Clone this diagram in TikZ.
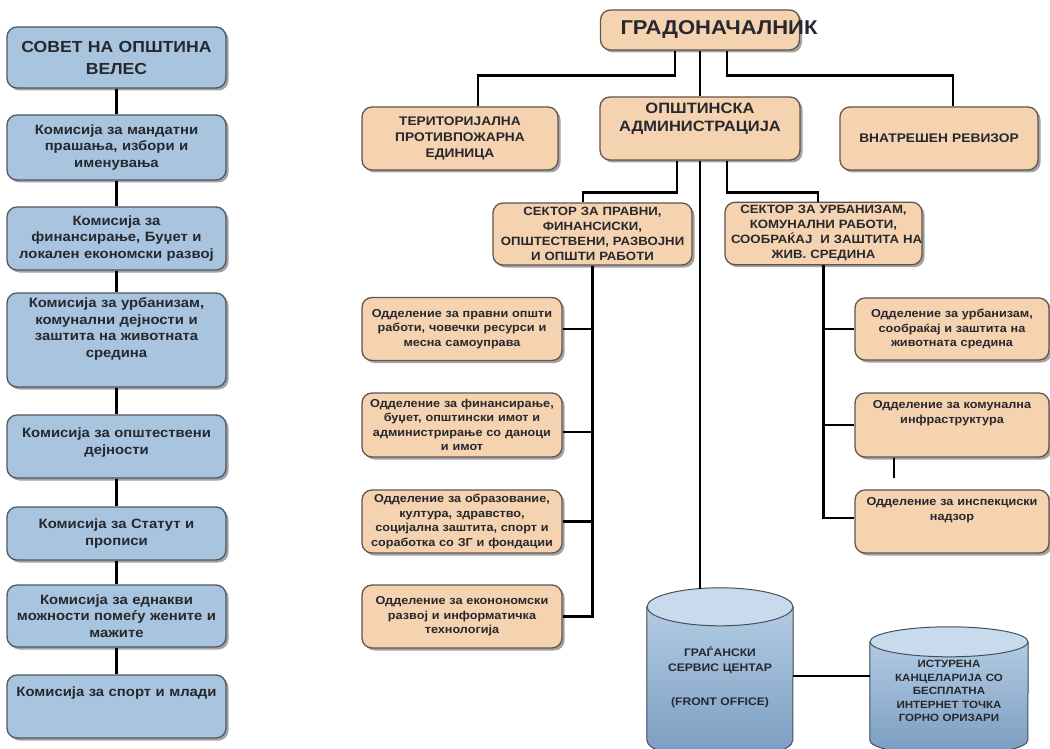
\documentclass[tikz,border=0pt]{standalone}
\usepackage{fontspec}
\setmainfont{Liberation Sans}[FakeStretch=1.1]
\usepackage{tikz}
\usetikzlibrary{shadows,backgrounds}

\definecolor{councilblue}{RGB}{168,196,222}
\definecolor{councilline}{RGB}{78,88,100}
\definecolor{officeorange}{RGB}{245,211,176}
\definecolor{officeline}{RGB}{96,86,76}
\definecolor{cyltop}{RGB}{200,219,236}
\definecolor{cylupper}{RGB}{178,203,227}
\definecolor{cyllower}{RGB}{122,156,192}
\definecolor{cylline}{RGB}{70,80,92}
\definecolor{inktext}{RGB}{38,40,46}

\begin{document}
\begin{tikzpicture}[x=1pt,y=-1pt,
  wire/.style={draw=black,line width=2.4pt},
  boxshadow/.style={drop shadow={shadow xshift=2.5pt,shadow yshift=-2.5pt,fill=black!60,opacity=0.6}},
  cbox/.style={boxshadow,draw=councilline,line width=1.3pt,fill=councilblue,rounded corners=10pt,text width=209pt,inner xsep=5pt,align=center,text=inktext,font=\bfseries\fontsize{13.5}{16.5}\selectfont},
  obox/.style={boxshadow,draw=officeline,line width=1.3pt,fill=officeorange,rounded corners=10pt,align=center,inner xsep=6pt,text=inktext},
  headbox/.style={obox,text width=186pt,minimum height=63pt,font=\bfseries\fontsize{12.5}{16}\selectfont},
  secbox/.style={obox,text width=187pt,minimum height=62pt,font=\bfseries\fontsize{12}{15}\selectfont},
  deptbox/.style={obox,text width=188pt,minimum height=63pt,font=\bfseries\fontsize{11.5}{14.5}\selectfont},
  cyltext/.style={inner sep=0pt,align=center,text=inktext,font=\bfseries\fontsize{10.5}{13.5}\selectfont},
  cylwall/.style={draw=cylline,line width=1pt}]

\useasboundingbox (0,0) rectangle (1050,749);

\node[cbox,minimum height=61pt,font=\bfseries\fontsize{16}{22}\selectfont] (council) at (116.5,57.5) {СОВЕТ НА ОПШТИНА\\ВЕЛЕС};
\node[cbox,minimum height=65pt] (mandate) [node distance=90pt,below of=council] {Комисија за мандатни\\прашања, избори и\\именувања};
\node[cbox,minimum height=63pt] (budget) [node distance=91pt,below of=mandate] {Комисија за\\финансирање, Буџет и\\локален економски развој};
\node[cbox,minimum height=94pt] (urban) [node distance=101.5pt,below of=budget] {Комисија за урбанизам,\\комунални дејности и\\заштита на животната\\средина\\[8pt]\mbox{}};
\node[cbox,minimum height=63pt] (social) [node distance=106.5pt,below of=urban] {Комисија за општествени\\дејности\\[-6pt]\mbox{}};
\node[cbox,minimum height=53pt] (statute) [node distance=87pt,below of=social] {Комисија за Статут и\\прописи};
\node[cbox,minimum height=62pt] (equal) [node distance=82.5pt,below of=statute] {Комисија за еднакви\\можности помеѓу жените и\\мажите};
\node[cbox,minimum height=63pt] (youth) [node distance=90.5pt,below of=equal] {Комисија за спорт и млади\\[14pt]\mbox{}};

\node[obox,text width=159pt,inner xsep=20pt,minimum height=40pt,font=\bfseries\fontsize{20}{24}\selectfont] (mayor) at (700,30) {ГРАДОНАЧАЛНИК};
\node[obox,text width=188pt,minimum height=63pt,font=\bfseries\fontsize{15}{18}\selectfont] (admin) at (700,128.5) {ОПШТИНСКА\\АДМИНИСТРАЦИЈА\\[4pt]\mbox{}};
\node[headbox,text width=184pt] (fire) at (460,138.5) {ТЕРИТОРИЈАЛНА\\ПРОТИВПОЖАРНА\\ЕДИНИЦА};
\node[headbox] (auditor) at (939,138.5) {ВНАТРЕШЕН РЕВИЗОР};

\node[secbox] (sec1) at (592.5,234) {СЕКТОР ЗА ПРАВНИ,\\ФИНАНСИСКИ,\\\mbox{ОПШТЕСТВЕНИ, РАЗВОЈНИ}\\И ОПШТИ РАБОТИ};
\node[secbox,text width=185pt] (sec2) at (823.5,233.5) {СЕКТОР ЗА УРБАНИЗАМ,\\КОМУНАЛНИ РАБОТИ,\\\mbox{СООБРАЌАЈ \ И ЗАШТИТА НА}\\ЖИВ. СРЕДИНА};

\node[deptbox] (deptA) at (462,329) {\mbox{Одделение за правни општи}\\\mbox{работи, човечки ресурси и}\\месна самоуправа};
\node[deptbox,minimum height=64pt] (deptB) at (462,425) {\mbox{Одделение за финансирање,}\\буџет, општински имот и\\\mbox{администрирање со даноци}\\и имот};
\node[deptbox] (deptC) at (462,521.5) {\mbox{Одделение за образование,}\\култура, здравство,\\\mbox{социјална заштита, спорт и}\\\mbox{соработка со ЗГ и фондации}};
\node[deptbox] (deptD) at (462,616.5) {\mbox{Одделение за еконономски}\\развој и информатичка\\технологија};
\node[deptbox,text width=182pt,minimum height=62pt] (deptE) at (952,329) {\mbox{Одделение за урбанизам,}\\сообраќај и заштита на\\животната средина};
\node[deptbox,text width=182pt,minimum height=64pt] (deptF) at (952,425) {\mbox{Одделение за комунална}\\инфраструктура\\[12pt]\mbox{}};
\node[deptbox,text width=182pt] (deptG) at (952,521.5) {\mbox{Одделение за инспекциски}\\надзор\\[11pt]\mbox{}};

\node[cyltext,minimum width=146pt,minimum height=133pt,text width=146pt,font=\bfseries\fontsize{11}{15}\selectfont] (front) at (720,673.5) {\mbox{}\\[2.5pt]ГРАЃАНСКИ\\СЕРВИС ЦЕНТАР\\[19pt](FRONT OFFICE)};
\node[cyltext,minimum width=158pt,minimum height=98pt,text width=158pt] (kiosk) at (949,691) {ИСТУРЕНА\\КАНЦЕЛАРИЈА СО\\БЕСПЛАТНА\\ИНТЕРНЕТ ТОЧКА\\ГОРНО ОРИЗАРИ};
\coordinate (link) at (0,676);
\coordinate (tick) at (894,478);

\draw[wire] (council) -- (mandate);
\draw[wire] (mandate) -- (budget);
\draw[wire] (budget) -- (urban);
\draw[wire] (urban) -- (social);
\draw[wire] (social) -- (statute);
\draw[wire] (statute) -- (equal);
\draw[wire] (equal) -- (youth);

\draw[wire] ([xshift=-25pt]mayor.south) -- ++(0,25) -| ([xshift=18pt]fire.north);
\draw[wire] (mayor.south) -- (admin.north);
\draw[wire] ([xshift=27pt]mayor.south) -- ++(0,25) -| ([xshift=14pt]auditor.north);

\draw[wire] ([xshift=-23pt]admin.south) -- ++(0,32) -| ([xshift=-9.5pt]sec1.north);
\draw[wire] (admin.south) -- ([xshift=-20pt,yshift=18pt]front.north);
\draw[wire] ([xshift=27pt]admin.south) -- ++(0,32) -| ([xshift=-5.5pt]sec2.north);

\draw[wire] (sec1.south) |- (deptA.east);
\draw[wire] (sec1.south) |- ([yshift=-7pt]deptB.east);
\draw[wire] (sec1.south) |- (deptC.east);
\draw[wire] (sec1.south) |- (deptD.east);

\draw[wire] (sec2.south) |- (deptE.west);
\draw[wire] (sec2.south) |- (deptF.west);
\draw[wire] (sec2.south) |- ([yshift=3.5pt]deptG.west);
\draw[wire] (tick |- deptF.south) -- (tick);

\draw[wire] (front.east |- link) -- (kiosk.west |- link);

\begin{scope}[on background layer]
\fill[white] (0,0) rectangle (1050,749);
\fill[top color=cylupper,bottom color=cyllower] (front.north west) -- (front.south west) arc[start angle=180,end angle=360,x radius=73pt,y radius=19pt] -- (front.north east) -- cycle;
\draw[cylwall] (front.north west) -- (front.south west) arc[start angle=180,end angle=360,x radius=73pt,y radius=19pt] -- (front.north east);
\draw[cylwall,fill=cyltop] (front.north) ellipse[x radius=73pt,y radius=19pt];
\fill[top color=cylupper,bottom color=cyllower] (kiosk.north west) -- (kiosk.south west) arc[start angle=180,end angle=360,x radius=79pt,y radius=15pt] -- (kiosk.north east) -- cycle;
\draw[cylwall] (kiosk.north west) -- (kiosk.south west) arc[start angle=180,end angle=360,x radius=79pt,y radius=15pt] -- (kiosk.north east);
\draw[cylwall,fill=cyltop] (kiosk.north) ellipse[x radius=79pt,y radius=15pt];
\end{scope}
\end{tikzpicture}
\end{document}
